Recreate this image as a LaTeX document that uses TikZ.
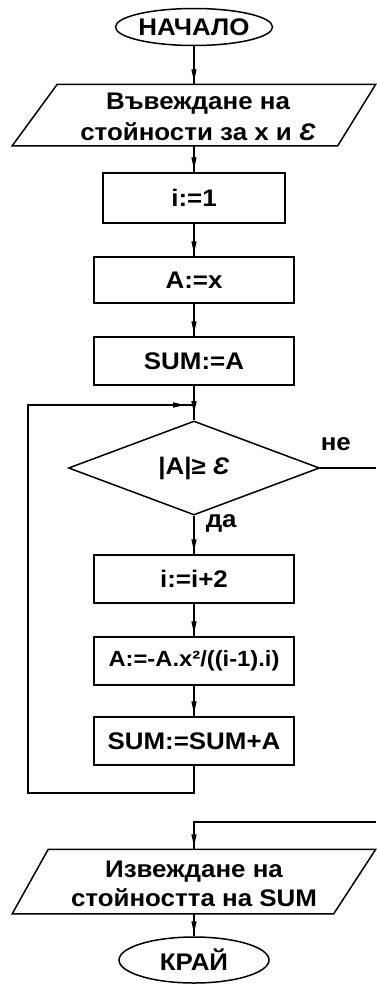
\documentclass[tikz,border=0pt]{standalone}
\usepackage{fontspec}
\setmainfont[FakeStretch=1.08]{Liberation Sans}
\usetikzlibrary{shapes.geometric,arrows.meta,decorations.markings}
\newcommand{\epsi}{{\bfseries\itshape Ɛ}}
\begin{document}
\begin{tikzpicture}[x=1pt,y=-1pt,
  line width=1.5pt,
  every node/.style={font=\bfseries\fontsize{24}{31}\selectfont, inner sep=0pt, text=black},
  term/.style={ellipse, draw, minimum width=145pt, minimum height=37pt},
  proc/.style={rectangle, draw, minimum width=200pt, minimum height=48pt},
  cond/.style={diamond, draw, minimum width=251pt, minimum height=71pt},
  iobox/.style={rectangle, minimum width=362pt, minimum height=60pt},
  flow/.style={postaction={decorate}, decoration={markings, mark=at position #1 with {\arrow{Triangle[length=12pt,width=5pt]}}}},
  flow/.default=-3pt]
\useasboundingbox (0,0) rectangle (376,985);
\fill[white] (0,0) rectangle (376,985);

% nodes
\node[term] (start) at (194,27) {НАЧАЛО};
\node[iobox] (in) at (194,115) {};
\draw ([xshift=45pt]in.north west) -- (in.north east) -- ([xshift=-38pt]in.south east) -- (in.south west) -- cycle;
\node[align=center] (intext) at (198,117) {Въвеждане на\\стойности за x и \epsi};
\node[proc, minimum width=182pt, minimum height=50pt] (b1) at (194,198) {i:=1};
\node[proc, minimum height=46pt] (b2) at (194,280) {A:=x};
\node[proc] (b3) at (194,361) {SUM:=A};
\coordinate (j) at (194,405);
\node[cond] (d) at (194,468) {|A|≥ \epsi};
\node[anchor=base west] (no) at (320,450) {не};
\node[anchor=base west] (yes) at (205,527) {да};
\node[proc] (b4) at (194,579) {i:=i+2};
\node[proc, font=\bfseries\fontsize{22}{26}\selectfont] (b5) at (194,661) {A:=-A.x²/((i-1).i)};
\node[proc] (b6) at (194,741) {SUM:=SUM+A};
\coordinate (lb) at (28,793);
\coordinate (ne) at (376,468);
\coordinate (nt) at (376,822);
\node[iobox, minimum height=63pt] (out) at (194,881.5) {};
\draw ([xshift=36pt]out.north west) -- (out.north east) -- ([xshift=-42pt]out.south east) -- (out.south west) -- cycle;
\node[align=center, font=\bfseries\fontsize{24}{29}\selectfont] (outtext) at (194,884) {Извеждане на\\стойността на SUM};
\node[term, minimum width=150pt, minimum height=46pt] (end) at (194,960) {КРАЙ};

% connectors
\draw[flow] (start) -- (in.north);
\draw[flow] (in.south) -- (b1);
\draw[flow] (b1) -- (b2);
\draw[flow] (b2) -- (b3);
\draw (b3) -- (j);
\draw[flow=-7pt] (j) -- (d);
\draw[flow] (d) -- (b4);
\draw[flow] (b4) -- (b5);
\draw[flow] (b5) -- (b6);
\draw[flow=-9pt] (b6.south) |- (lb) |- (j);
\draw (d.east) -- (ne);
\draw[flow] (nt) -| (out.north);
\draw[flow] (out.south) -- (end);
\end{tikzpicture}
\end{document}
